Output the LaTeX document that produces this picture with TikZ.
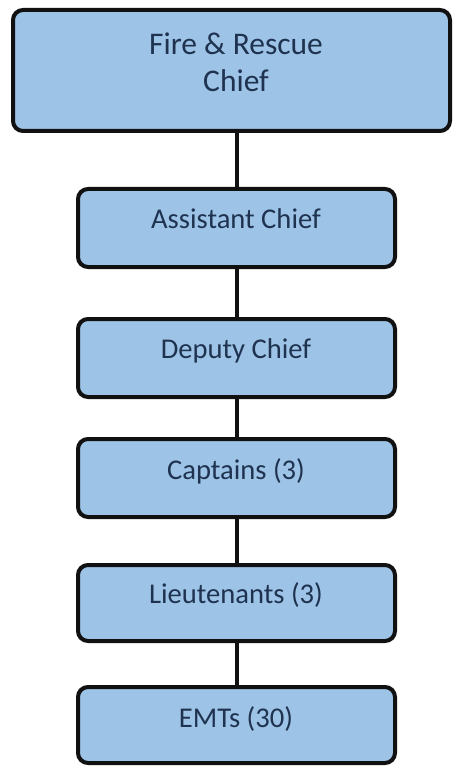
\documentclass[tikz,border=0pt]{standalone}
\usepackage{fontspec}
\setmainfont{Carlito}
\definecolor{boxfill}{HTML}{9DC3E6}
\definecolor{boxtext}{HTML}{1F3350}
\definecolor{boxline}{HTML}{111111}
\begin{document}
\begin{tikzpicture}[x=1pt,y=-1pt,
  orgbox/.style={draw=boxline, fill=boxfill, line width=4pt, rounded corners=10pt, rectangle, inner sep=0pt},
  orgtext/.style={text=boxtext, font=\fontsize{28.6}{34}\selectfont, inner sep=0pt, anchor=base},
  toptext/.style={orgtext, font=\fontsize{31.5}{37}\selectfont},
  link/.style={draw=boxline, line width=4pt}]
\useasboundingbox (0,0) rectangle (453,767);
% boxes
\node[orgbox, minimum width=437pt, minimum height=121pt] (b1) at (231.5,70.5) {};
\node[orgbox, minimum width=317pt, minimum height=78pt] (b2) at (236.5,228) {};
\node[orgbox, minimum width=317pt, minimum height=78pt] (b3) at (236.5,358) {};
\node[orgbox, minimum width=317pt, minimum height=78pt] (b4) at (236.5,478) {};
\node[orgbox, minimum width=317pt, minimum height=76pt] (b5) at (236.5,603) {};
\node[orgbox, minimum width=317pt, minimum height=76pt] (b6) at (236.5,725) {};
% texts
\node[toptext] (t1a) at (236,55) {Fire \& Rescue};
\node[toptext] (t1b) at (236,92) {Chief};
\node[orgtext] (t2) at (236,229) {Assistant Chief};
\node[orgtext] (t3) at (236,358) {Deputy Chief};
\node[orgtext] (t4) at (236,479) {Captains (3)};
\node[orgtext] (t5) at (236,603) {Lieutenants (3)};
\node[orgtext] (t6) at (236,727) {EMTs (30)};
% connectors
\draw[link] (b2.north |- b1.south) -- (b2.north);
\draw[link] (b2.south) -- (b3.north);
\draw[link] (b3.south) -- (b4.north);
\draw[link] (b4.south) -- (b5.north);
\draw[link] (b5.south) -- (b6.north);
\end{tikzpicture}
\end{document}
